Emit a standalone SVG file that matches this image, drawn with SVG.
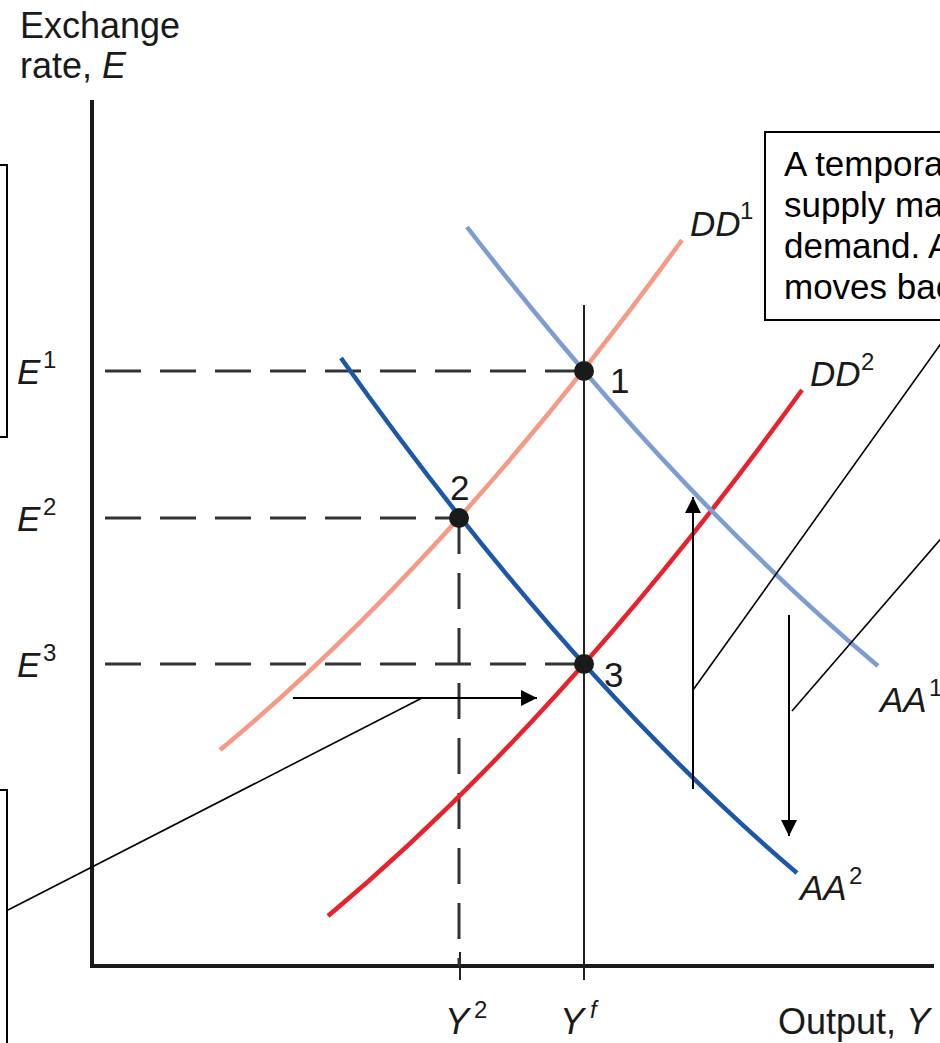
<svg xmlns="http://www.w3.org/2000/svg" width="940" height="1043" viewBox="0 0 940 1043">
<defs>
<style>
text{font-family:"Liberation Sans",Arial,Helvetica,sans-serif;fill:#1a1a1a}
.lab{font-size:35px}
.big{font-size:36px}
.it{font-style:italic}
.sup{font-size:24px}
.box{font-size:35px;fill:#000}
.axis{stroke:#1a1a1a;stroke-width:4;fill:none}
.dash{stroke:#333;stroke-width:3;stroke-dasharray:36 19;fill:none}
.thin{stroke:#222;stroke-width:2;fill:none}
.call{stroke:#000;stroke-width:1.6;fill:none}
.arr{stroke:#000;stroke-width:2;fill:none;marker-end:url(#ah)}
.curve{stroke-width:4.5;fill:none;stroke-linecap:butt}
.frame{fill:none;stroke:#000;stroke-width:2}
</style>
<marker id="ah" markerUnits="userSpaceOnUse" markerWidth="18" markerHeight="18" refX="16" refY="8" orient="auto">
<path d="M0,0 L16,8 L0,16 z" fill="#000"/>
</marker>
</defs>
<rect width="940" height="1043" fill="#fff"/>

<g id="axes">
<line class="axis" x1="92" y1="100" x2="92" y2="968"/>
<line class="axis" x1="90" y1="966" x2="934" y2="966"/>
<line class="thin" x1="460" y1="952" x2="460" y2="980"/>
<line class="thin" x1="584" y1="305" x2="584" y2="980"/>
<text class="big" x="20" y="38">Exchange</text>
<text class="big" x="20" y="78">rate, <tspan class="it">E</tspan></text>
<text class="big" x="778" y="1034">Output, <tspan class="it">Y</tspan></text>
<text class="big it" x="445" y="1034">Y</text><text class="sup" x="474" y="1018">2</text>
<text class="big it" x="560" y="1034">Y</text><text class="sup it" x="590" y="1018">f</text>
</g>

<g id="guides">
<line class="dash" x1="105" y1="371" x2="584" y2="371"/>
<line class="dash" x1="105" y1="518" x2="459" y2="518"/>
<line class="dash" x1="105" y1="664" x2="584" y2="664"/>
<line class="dash" x1="459" y1="518" x2="459" y2="966"/>
<text class="lab it" x="17" y="384">E</text><text class="sup" x="43" y="368">1</text>
<text class="lab it" x="17" y="531">E</text><text class="sup" x="43" y="515">2</text>
<text class="lab it" x="17" y="677">E</text><text class="sup" x="43" y="661">3</text>
</g>

<g id="DD1">
<path class="curve" stroke="#F59A85" d="M220,750 Q451,558.7 682,240"/>
<text class="lab it" x="690" y="236">DD</text><text class="sup" x="740" y="219">1</text>
</g>
<g id="DD2">
<path class="curve" stroke="#E8222C" d="M328,916 Q565,717.6 802,390"/>
<text class="lab it" x="810" y="386">DD</text><text class="sup" x="861" y="370">2</text>
</g>
<g id="AA1">
<path class="curve" stroke="#7D9CD2" d="M467,227 Q672.5,493.2 878,666"/>
<text class="lab it" x="880" y="712">AA</text><text class="sup" x="929" y="696">1</text>
</g>
<g id="AA2">
<path class="curve" stroke="#1D57A8" d="M341,358 Q569,678.9 797,873"/>
<text class="lab it" x="800" y="900">AA</text><text class="sup" x="849" y="884">2</text>
</g>

<g id="point1">
<circle cx="584" cy="371" r="10" fill="#1a1a1a"/>
<text class="lab" x="610" y="393">1</text>
</g>
<g id="point2">
<circle cx="459" cy="518" r="10" fill="#1a1a1a"/>
<text class="lab" x="450" y="500">2</text>
</g>
<g id="point3">
<circle cx="584" cy="664" r="10" fill="#1a1a1a"/>
<text class="lab" x="604" y="687">3</text>
</g>

<g id="box-right">
<rect class="frame" x="765" y="132" width="200" height="188"/>
<text class="box" x="784" y="176">A tempora</text>
<text class="box" x="784" y="217">supply ma</text>
<text class="box" x="784" y="258">demand. A</text>
<text class="box" x="784" y="299">moves bac</text>
</g>
<g id="box-left-top">
<rect class="frame" x="-10" y="165" width="17" height="272"/>
</g>
<g id="box-left-bottom">
<rect class="frame" x="-10" y="790" width="17" height="270"/>
</g>

<g id="connectors">
<line class="arr" x1="293" y1="698" x2="537" y2="698"/>
<line class="arr" x1="693" y1="789" x2="693" y2="497"/>
<line class="arr" x1="789" y1="615" x2="789" y2="836"/>
<line class="call" x1="8" y1="910" x2="422" y2="698"/>
<line class="call" x1="693" y1="690" x2="945" y2="338"/>
<line class="call" x1="792" y1="711" x2="945" y2="534"/>
</g>
</svg>
